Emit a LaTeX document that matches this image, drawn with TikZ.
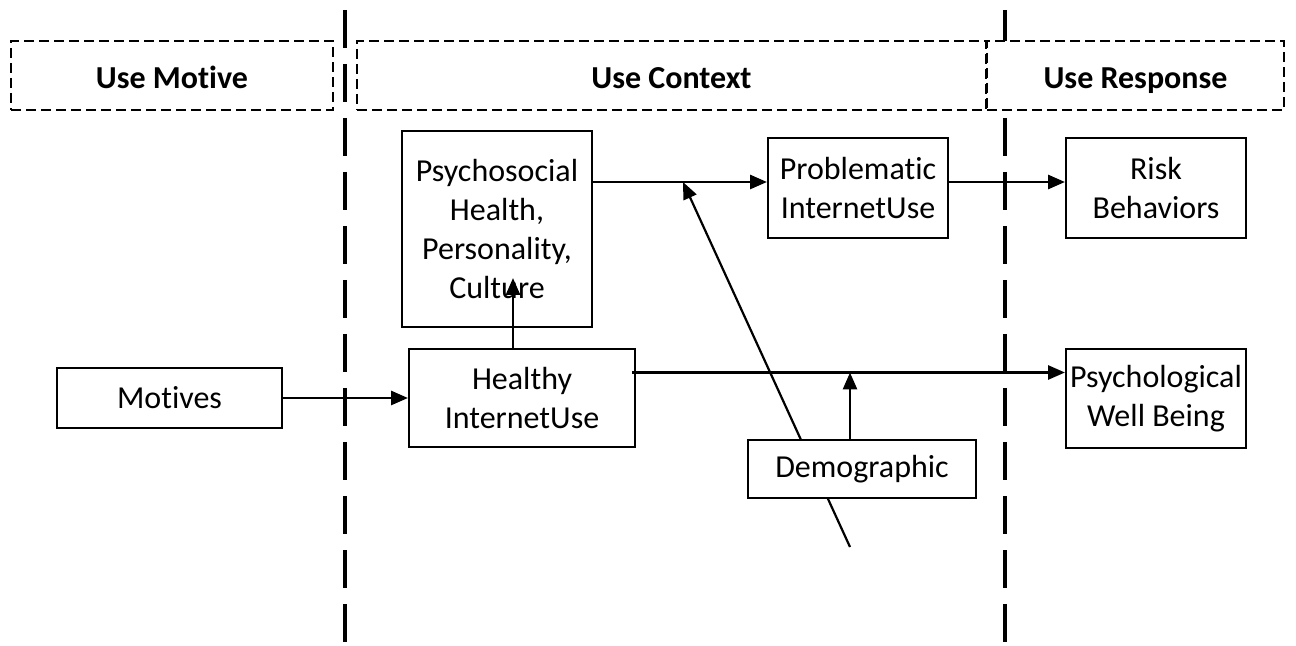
\documentclass[tikz,border=0pt]{standalone}
\usepackage{fontspec}
\setmainfont{Carlito}[Ligatures=NoCommon]
\usetikzlibrary{arrows.meta}
\begin{document}
\begin{tikzpicture}[x=0.5pt,y=-0.5pt,
  box/.style={draw,line width=1pt,fill=white,align=center,inner sep=0pt,font=\fontsize{16}{19.5}\selectfont},
  head/.style={draw,fill=white,dash pattern=on 5pt off 2.5pt,line width=0.9pt,inner sep=0pt,minimum height=34.5pt,text height=13pt,text depth=0pt,font=\fontsize{16}{19.5}\selectfont\bfseries},
  conn/.style={line width=1.4pt,-{Triangle[length=8.5pt,width=7pt]}}]
\useasboundingbox (0,0) rectangle (1296,646);
% lane borders
\foreach \lx in {345,1005} \draw[line width=2pt,dash pattern=on 19pt off 8pt] (\lx,10) -- (\lx,646);
% lane titles
\node[head,minimum width=161pt] (motive) at (172,75.5) {Use Motive};
\node[head,minimum width=314.5pt] (context) at (671.5,75.5) {Use Context};
\node[head,minimum width=148.5pt] (response) at (1135.5,75.5) {Use Response};
% boxes
\node[box,minimum width=112.5pt,minimum height=30pt] (mot) at (169.5,398) {Motives};
\node[box,minimum width=113pt,minimum height=49pt] (healthy) at (522,398) {Healthy\\InternetUse};
\node[box,minimum width=95pt,minimum height=98pt] (psy) at (497,229) {Psychosocial\\Health,\\Personality,\\Culture};
\node[box,minimum width=90pt,minimum height=50pt] (prob) at (858,188) {Problematic\\InternetUse};
\node[box,minimum width=90pt,minimum height=50pt] (risk) at (1156,188) {Risk\\Behaviors};
\node[box,minimum width=90pt,minimum height=49.5pt] (well) at (1156,398.5) {Psychological\\Well Being};
\coordinate (pline) at ([yshift=3pt]prob.west);
\coordinate (wline) at ([yshift=13pt]well.west);
\coordinate (cul) at (513,278);
\coordinate (dtip) at (683,182);
\coordinate (dtail) at (850,547);
% connectors
\draw[conn] (mot) -- (healthy);
\draw[conn] (healthy.north -| cul) -- (cul);
\draw[conn] (psy.east |- pline) -- (pline);
\draw[conn] (prob.east |- pline) -- (risk.west |- pline);
\draw[conn] ([xshift=-2pt]healthy.east |- wline) -- (wline);
\draw[conn,line width=1.1pt] (dtail) -- (dtip);
\node[box,minimum width=114pt,minimum height=29pt] (demo) at (862,469) {Demographic};
\draw[conn] ([xshift=-6pt]demo.north) -- ([xshift=-6pt]demo.north |- wline);
\end{tikzpicture}
\end{document}
